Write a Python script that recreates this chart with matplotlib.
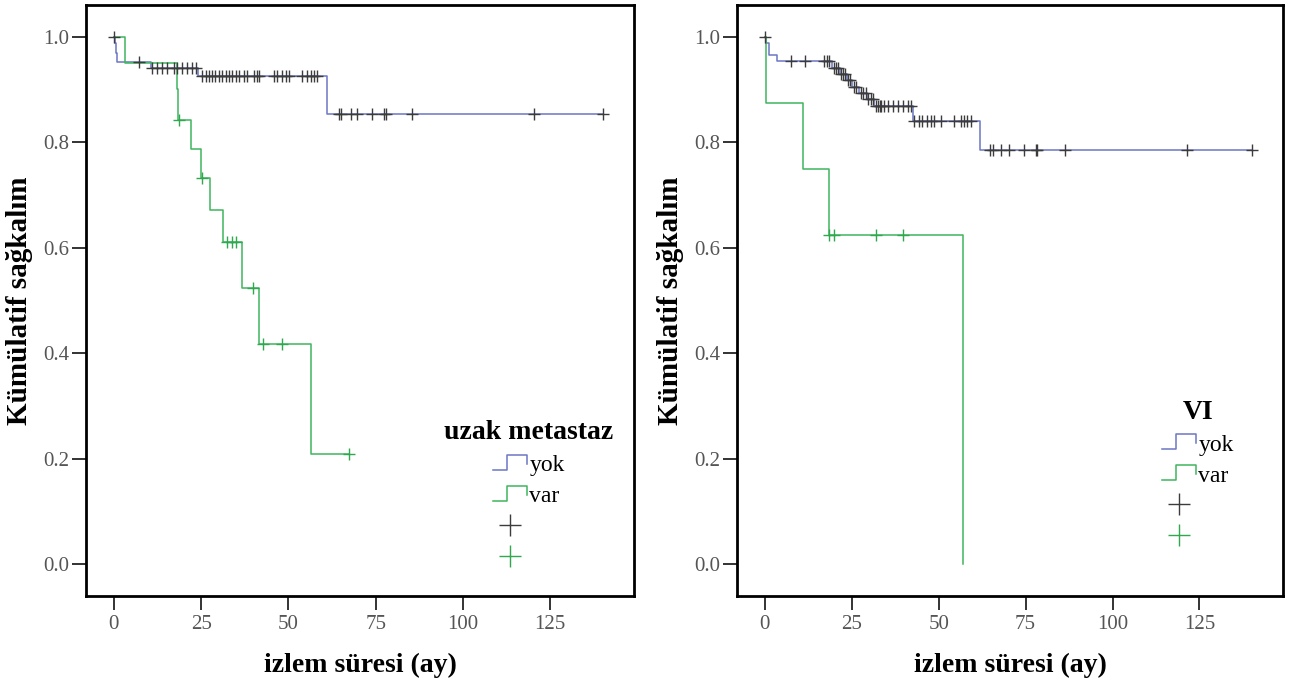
import numpy as np
import matplotlib

matplotlib.use("Agg")
import matplotlib.pyplot as plt
from matplotlib.lines import Line2D
from matplotlib.legend_handler import HandlerBase

# survival curves, uzak metastaz panel
um_yok_t = [0, 0.2, 0.5, 1.0, 10.5, 24.0, 61.0, 140.0]
um_yok_s = [1.0, 0.988, 0.969, 0.952, 0.940, 0.925, 0.853, 0.853]
um_yok_cens = [0, 7.2, 10.9, 12.3, 13.8, 15.2, 17.2, 18.1, 19.5, 21.0, 22.3, 23.4,
               25.3, 26.3, 27.2, 28.2, 29.1, 30.1, 31.0, 32.0, 33.0, 33.9, 34.9, 35.8,
               37.3, 38.2, 40.1, 41.1, 41.5, 45.9, 46.8, 48.2, 49.2, 50.1, 54.0, 55.4,
               56.4, 57.3, 58.3, 64.5, 65.0, 67.8, 69.7, 73.8, 77.4, 78.0, 85.4, 120.3, 140.0]

um_var_t = [0, 3.2, 18.0, 18.4, 22.2, 25.0, 27.5, 31.2, 36.8, 41.7, 56.6, 67.3]
um_var_s = [1.0, 0.95, 0.90, 0.842, 0.787, 0.732, 0.671, 0.61, 0.523, 0.418, 0.209, 0.209]
um_var_cens = [18.6, 25.2, 32.4, 33.8, 35.0, 39.8, 42.7, 48.2, 67.3]

# survival curves, VI panel
vi_yok_t = [0, 0.3, 1.2, 3.6, 19.4, 21.6, 23.6, 25.2, 27.1, 29.4, 31.4, 42.5, 61.8, 140.0]
vi_yok_s = [1.0, 0.988, 0.965, 0.953, 0.941, 0.929, 0.917, 0.905, 0.893, 0.881, 0.869,
            0.841, 0.785, 0.785]
vi_yok_cens = [0, 7.5, 11.5, 17.0, 17.8, 18.5, 19.8, 20.4, 21.0, 22.0, 22.6, 23.0, 24.0,
               24.6, 25.6, 26.2, 27.6, 28.2, 29.0, 29.8, 30.4, 31.0, 32.0, 32.5, 33.0,
               33.5, 34.3, 35.3, 36.8, 38.3, 39.8, 41.3, 42.0, 42.9, 44.3, 45.3, 46.7,
               47.7, 48.6, 50.8, 54.4, 56.3, 57.3, 58.2, 59.2, 64.9, 65.5, 67.8, 70.2,
               74.5, 77.9, 78.4, 86.2, 121.5, 140.0]

vi_var_t = [0, 0.3, 11.0, 18.4, 56.9]
vi_var_s = [1.0, 0.875, 0.75, 0.625, 0.0]
vi_var_cens = [18.6, 20.0, 31.9, 39.7]

x_ticks = [0, 25, 50, 75, 100, 125]
y_ticks = [0.0, 0.2, 0.4, 0.6, 0.8, 1.0]
y_tick_labels = ["0.0", "0.2", "0.4", "0.6", "0.8", "1.0"]
group_labels = ["yok", "var"]

BLUE = "#6C76C4"
GREEN = "#3DB55C"
CENS_DARK = "#3C3C3C"
CENS_GREEN = "#2FA84F"

plt.rcParams["font.family"] = ["Liberation Serif", "DejaVu Serif"]


class StepHandler(HandlerBase):
    """Legend glyph: small step pulse in the line colour."""

    def create_artists(self, legend, orig_handle, xdescent, ydescent, width, height, fontsize, trans):
        xs = np.array([0.0, 0.42, 0.42, 1.0, 1.0]) * width - xdescent
        ys = np.array([0.1, 0.1, 1.0, 1.0, 0.45]) * height - ydescent
        line = Line2D(xs, ys, color=orig_handle.get_color(), lw=1.1)
        line.set_transform(trans)
        return [line]


def km_value(times, surv, t):
    idx = np.searchsorted(times, t, side="right") - 1
    return np.asarray(surv)[idx]


def draw_panel(ax, curves, title, anchor):
    for times, surv, _, color, _ in curves:
        ax.step(times, surv, where="post", color=color, lw=1.1)
    for times, surv, cens, _, mcolor in curves:
        ax.plot(cens, km_value(times, surv, cens), ls="none", marker="+",
                ms=9, mew=1.0, color=mcolor)

    ax.set_xlim(-8, 149)
    ax.set_ylim(-0.06, 1.06)
    ax.set_xticks(x_ticks)
    ax.set_yticks(y_ticks)
    ax.set_yticklabels(y_tick_labels)
    ax.tick_params(direction="out", length=10, width=1.4, color="#333333",
                   labelsize=15, labelcolor="#555555")
    ax.tick_params(axis="x", pad=4)
    ax.tick_params(axis="y", pad=2)
    for sp in ax.spines.values():
        sp.set_linewidth(2)
        sp.set_color("black")

    ax.set_xlabel("izlem süresi (ay)", fontsize=20, fontweight="bold", labelpad=13)
    ax.set_ylabel("Kümülatif sağkalım", fontsize=21, fontweight="bold")
    ax.yaxis.set_label_coords(-0.097, 0.5)

    handles = [Line2D([], [], color=BLUE), Line2D([], [], color=GREEN),
               Line2D([], [], ls="none", marker="+", ms=16, mew=1.0, color=CENS_DARK),
               Line2D([], [], ls="none", marker="+", ms=16, mew=1.0, color=CENS_GREEN)]
    ax.legend(handles, group_labels + ["", ""], title=title, loc="upper center",
              bbox_to_anchor=anchor, frameon=False, numpoints=1,
              prop={"size": 17}, title_fontproperties={"size": 20, "weight": "bold"},
              handlelength=1.45, handletextpad=0.1, labelspacing=0.4, borderpad=0,
              handler_map={handles[0]: StepHandler(), handles[1]: StepHandler()})


fig = plt.figure(figsize=(12.95, 6.84), dpi=100)
ax1 = fig.add_axes([0.0664, 0.1287, 0.4232, 0.864])
ax2 = fig.add_axes([0.5691, 0.1287, 0.4216, 0.864])

draw_panel(ax1, [(um_yok_t, um_yok_s, um_yok_cens, BLUE, CENS_DARK),
                 (um_var_t, um_var_s, um_var_cens, GREEN, CENS_GREEN)],
           "uzak metastaz", (0.808, 0.317))
draw_panel(ax2, [(vi_yok_t, vi_yok_s, vi_yok_cens, BLUE, CENS_DARK),
                 (vi_var_t, vi_var_s, vi_var_cens, GREEN, CENS_GREEN)],
           "VI", (0.844, 0.352))

fig.savefig("out.png", dpi=100, facecolor="white")
plt.close(fig)
